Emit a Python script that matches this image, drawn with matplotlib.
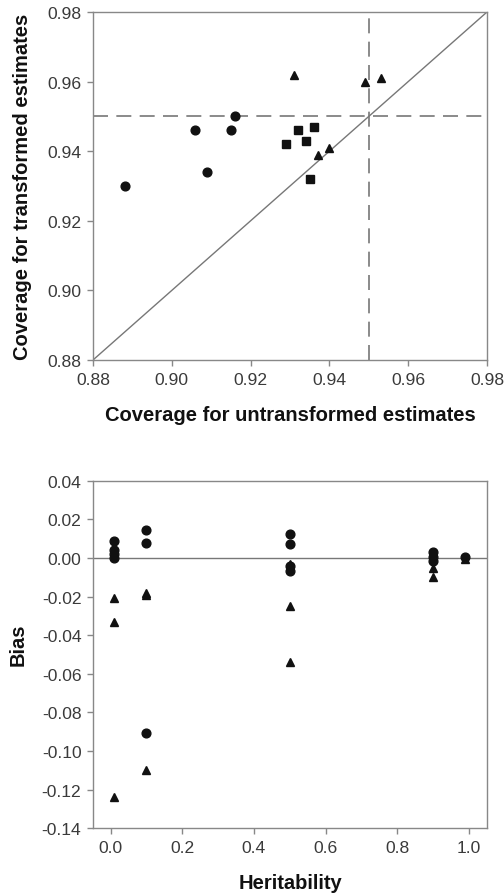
import matplotlib
matplotlib.use("Agg")
import matplotlib.pyplot as plt

plt.rcParams['font.family'] = ['Liberation Sans', 'DejaVu Sans']

# ---- Top panel data: coverage ----
circ_untr = [0.888, 0.906, 0.915, 0.916, 0.909]
circ_tr = [0.930, 0.946, 0.946, 0.950, 0.934]
sq_untr = [0.929, 0.932, 0.936, 0.934, 0.935]
sq_tr = [0.942, 0.946, 0.947, 0.943, 0.932]
tri_untr = [0.931, 0.949, 0.953, 0.937, 0.940]
tri_tr = [0.962, 0.960, 0.961, 0.939, 0.941]
nominal = 0.95
cov_ticks = [0.88, 0.90, 0.92, 0.94, 0.96, 0.98]

# ---- Bottom panel data: bias vs heritability ----
circ_h = [0.01, 0.01, 0.01, 0.01, 0.1, 0.1, 0.1, 0.5, 0.5, 0.5, 0.5, 0.9, 0.9, 0.9, 0.99]
circ_bias = [0.009, 0.004, 0.002, 0.000, 0.0146, 0.0079, -0.0906,
             0.0124, 0.007, -0.0044, -0.0066, 0.0032, 0.0003, -0.0015, 0.0003]
tri_h = [0.01, 0.01, 0.01, 0.1, 0.1, 0.1, 0.5, 0.5, 0.5, 0.9, 0.9, 0.99]
tri_bias = [-0.021, -0.033, -0.124, -0.018, -0.019, -0.110,
            -0.003, -0.025, -0.054, -0.005, -0.0097, -0.0008]
bias_ticks = [0.04, 0.02, 0.00, -0.02, -0.04, -0.06, -0.08, -0.10, -0.12, -0.14]
her_ticks = [0.0, 0.2, 0.4, 0.6, 0.8, 1.0]

W, H = 504, 895
fig = plt.figure(figsize=(W / 100, H / 100), dpi=100)

spine_c = '#888888'
line_c = '#777777'
tick_c = '#3a3a3a'
mk_c = '#111111'
tick_fs = 12.6
lab_fs = 14.5


def style(ax):
    for s in ax.spines.values():
        s.set_color(spine_c)
        s.set_linewidth(1.0)
    ax.tick_params(direction='out', length=4.3, width=1.0, color=spine_c,
                   labelsize=tick_fs, labelcolor=tick_c, pad=4,
                   top=False, right=False)


# Top axes
ax1 = fig.add_axes([93 / W, 1 - 361 / H, 394 / W, 348 / H])
ax1.plot([0.88, 0.98], [0.88, 0.98], color=line_c, lw=1.0, zorder=1)
ax1.axhline(nominal, color=line_c, lw=1.2, dashes=(9, 5), zorder=1)
ax1.axvline(nominal, color=line_c, lw=1.2, dashes=(9, 5), zorder=1)
ax1.plot(circ_untr, circ_tr, 'o', color=mk_c, ms=6.3, ls='none', zorder=3)
ax1.plot(sq_untr, sq_tr, 's', color=mk_c, ms=5.5, ls='none', zorder=3)
ax1.plot(tri_untr, tri_tr, '^', color=mk_c, ms=6.3, ls='none', zorder=3)
ax1.set_xlim(0.88, 0.98)
ax1.set_ylim(0.88, 0.98)
ax1.set_xticks(cov_ticks)
ax1.set_yticks(cov_ticks)
ax1.set_xticklabels([f"{t:.2f}" for t in cov_ticks])
ax1.set_yticklabels([f"{t:.2f}" for t in cov_ticks])
style(ax1)
ax1.set_xlabel('Coverage for untransformed estimates', fontsize=lab_fs,
               fontweight='bold', color='#111111')
ax1.set_ylabel('Coverage for transformed estimates', fontsize=lab_fs,
               fontweight='bold', color='#111111')
ax1.xaxis.set_label_coords(0.5, -0.13)
ax1.yaxis.set_label_coords(-0.155, 0.5)

# Bottom axes
ax2 = fig.add_axes([93 / W, 1 - 829.3 / H, 394 / W, 347.6 / H])
ax2.axhline(0.0, color=line_c, lw=1.0, zorder=1)
ax2.plot(circ_h, circ_bias, 'o', color=mk_c, ms=6.3, ls='none', zorder=3)
ax2.plot(tri_h, tri_bias, '^', color=mk_c, ms=6.3, ls='none', zorder=3)
ax2.set_xlim(-0.049, 1.05)
ax2.set_ylim(-0.14, 0.04)
ax2.set_xticks(her_ticks)
ax2.set_yticks(bias_ticks)
ax2.set_xticklabels([f"{t:.1f}" for t in her_ticks])
ax2.set_yticklabels([f"{t:.2f}" for t in bias_ticks])
style(ax2)
ax2.set_xlabel('Heritability', fontsize=lab_fs, fontweight='bold', color='#111111')
ax2.set_ylabel('Bias', fontsize=lab_fs, fontweight='bold', color='#111111')
ax2.xaxis.set_label_coords(0.5, -0.13)
ax2.yaxis.set_label_coords(-0.165, 0.53)

fig.savefig('out.png', dpi=100)
